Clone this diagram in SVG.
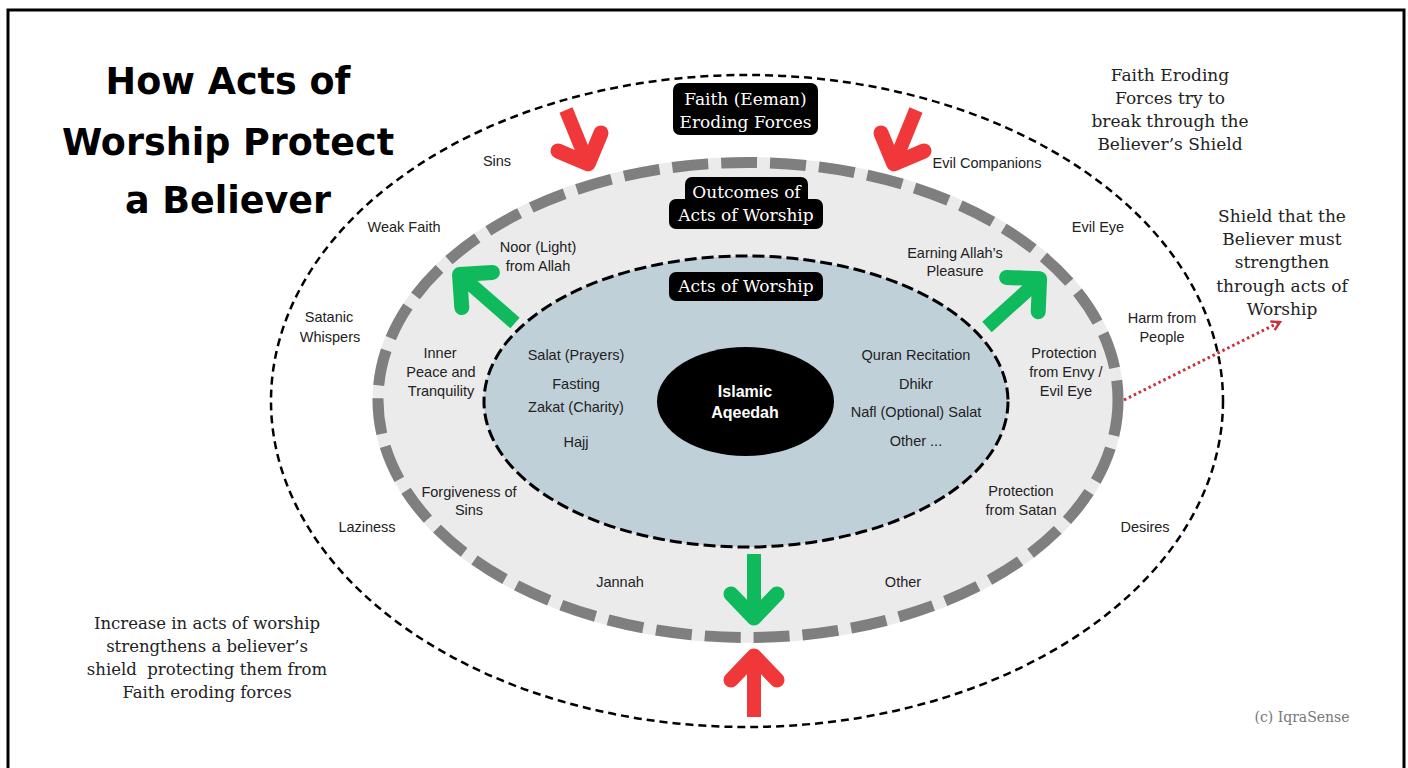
<svg xmlns="http://www.w3.org/2000/svg" width="1408" height="768" viewBox="0 0 1408 768">
  <defs>
    <style>
      .lbl { font-family: "Liberation Sans", Arial, sans-serif; font-size: 14.5px; fill: #222; text-anchor: middle; }
      .core { font-family: "Liberation Sans", Arial, sans-serif; font-size: 16px; font-weight: bold; fill: #fff; text-anchor: middle; }
      .tag { font-family: "DejaVu Serif", "Liberation Serif", serif; font-size: 17px; fill: #fff; text-anchor: middle; }
      .note { font-family: "DejaVu Serif", "Liberation Serif", serif; font-size: 17px; fill: #222; text-anchor: middle; }
      .note-sm { font-size: 16.5px; white-space: pre; }
      .title { font-family: "DejaVu Sans", "Liberation Sans", sans-serif; font-size: 36.5px; font-weight: 900; fill: #000; text-anchor: middle; }
      .box { fill: #000; }
      .shaft-red { stroke: #f0383a; stroke-width: 14; fill: none; stroke-linecap: butt; }
      .head-red { stroke: #f0383a; stroke-width: 15; fill: none; stroke-linecap: round; stroke-linejoin: round; }
      .shaft-green { stroke: #0fba5c; stroke-width: 14; fill: none; stroke-linecap: butt; }
      .head-green { stroke: #0fba5c; stroke-width: 15; fill: none; stroke-linecap: round; stroke-linejoin: round; }
    </style>
    <marker id="dotHead" viewBox="0 0 10 10" refX="8" refY="5" markerWidth="4" markerHeight="4" orient="auto" markerUnits="strokeWidth">
      <path d="M1 1 L8 5 L1 9" fill="none" stroke="#c9303a" stroke-width="2"/>
    </marker>
  </defs>

  <rect width="1408" height="768" fill="#fff"/>
  <!-- frame -->
  <rect x="8" y="10" width="1396" height="780" fill="none" stroke="#000" stroke-width="3"/>

  <!-- title -->
  <g id="title">
    <text class="title" x="228" y="94">How Acts of</text>
    <text class="title" x="228" y="155">Worship Protect</text>
    <text class="title" x="228" y="213">a Believer</text>
  </g>

  <!-- outer ring: faith eroding forces -->
  <g id="eroding-ring">
    <ellipse cx="747" cy="401" rx="476" ry="326" fill="none" stroke="#000" stroke-width="2.5" stroke-dasharray="8 5"/>
    <text class="lbl" x="497" y="166">Sins</text>
    <text class="lbl" x="987" y="168">Evil Companions</text>
    <text class="lbl" x="404" y="232">Weak Faith</text>
    <text class="lbl" x="1098" y="232">Evil Eye</text>
    <text class="lbl" x="329" y="322">Satanic</text>
    <text class="lbl" x="330" y="342">Whispers</text>
    <text class="lbl" x="1162" y="323">Harm from</text>
    <text class="lbl" x="1162" y="342">People</text>
    <text class="lbl" x="367" y="532">Laziness</text>
    <text class="lbl" x="1145" y="532">Desires</text>
  </g>

  <!-- shield band: outcomes of acts of worship -->
  <g id="shield">
    <ellipse cx="748" cy="400" rx="370" ry="237.5" fill="#ebebeb" stroke="#ebebeb" stroke-width="11"/>
    <ellipse cx="748" cy="400" rx="370" ry="237.5" fill="none" stroke="#7f7f7f" stroke-width="11" stroke-dasharray="36 13"/>
    <text class="lbl" x="538" y="252">Noor (Light)</text>
    <text class="lbl" x="538" y="271">from Allah</text>
    <text class="lbl" x="955" y="258">Earning Allah’s</text>
    <text class="lbl" x="955" y="276">Pleasure</text>
    <text class="lbl" x="440" y="358">Inner</text>
    <text class="lbl" x="441" y="377">Peace and</text>
    <text class="lbl" x="441" y="396">Tranquility</text>
    <text class="lbl" x="1064" y="358">Protection</text>
    <text class="lbl" x="1066" y="377">from Envy /</text>
    <text class="lbl" x="1066" y="396">Evil Eye</text>
    <text class="lbl" x="469" y="497">Forgiveness of</text>
    <text class="lbl" x="469" y="515">Sins</text>
    <text class="lbl" x="1021" y="496">Protection</text>
    <text class="lbl" x="1021" y="515">from Satan</text>
    <text class="lbl" x="620" y="587">Jannah</text>
    <text class="lbl" x="903" y="587">Other</text>
  </g>

  <!-- inner ellipse: acts of worship -->
  <g id="acts">
    <ellipse cx="746" cy="401.5" rx="262" ry="145.5" fill="#c0d0d9" stroke="#000" stroke-width="3" stroke-dasharray="12 5"/>
    <text class="lbl" x="576" y="360">Salat (Prayers)</text>
    <text class="lbl" x="576" y="389">Fasting</text>
    <text class="lbl" x="576" y="412">Zakat (Charity)</text>
    <text class="lbl" x="576" y="447">Hajj</text>
    <text class="lbl" x="916" y="360">Quran Recitation</text>
    <text class="lbl" x="916" y="389">Dhikr</text>
    <text class="lbl" x="916" y="417">Nafl (Optional) Salat</text>
    <text class="lbl" x="916" y="446">Other ...</text>
  </g>

  <!-- core -->
  <g id="aqeedah">
    <ellipse cx="745.5" cy="401.5" rx="88.5" ry="54.5" fill="#000"/>
    <text class="core" x="745" y="397">Islamic</text>
    <text class="core" x="745" y="418">Aqeedah</text>
  </g>

  <!-- heading tags -->
  <g id="tag-eroding">
    <rect class="box" x="673" y="83" width="145" height="52" rx="7"/>
    <text class="tag" x="745.5" y="105">Faith (Eeman)</text>
    <text class="tag" x="745.5" y="128">Eroding Forces</text>
  </g>
  <g id="tag-outcomes">
    <rect class="box" x="685" y="177" width="123" height="30" rx="7"/>
    <rect class="box" x="669" y="199" width="154" height="30" rx="7"/>
    <text class="tag" x="746.5" y="198">Outcomes of</text>
    <text class="tag" x="746" y="221">Acts of Worship</text>
  </g>
  <g id="tag-acts">
    <rect class="box" x="669" y="272" width="154" height="29" rx="7"/>
    <text class="tag" x="746" y="292">Acts of Worship</text>
  </g>

  <!-- side notes -->
  <g id="note-forces">
    <text class="note" x="1170" y="81">Faith Eroding</text>
    <text class="note" x="1170" y="104">Forces try to</text>
    <text class="note" x="1170" y="127">break through the</text>
    <text class="note" x="1170" y="150">Believer’s Shield</text>
  </g>
  <g id="note-shield">
    <text class="note" x="1282" y="222">Shield that the</text>
    <text class="note" x="1282" y="245">Believer must</text>
    <text class="note" x="1282" y="268">strengthen</text>
    <text class="note" x="1282" y="292">through acts of</text>
    <text class="note" x="1282" y="315">Worship</text>
  </g>
  <g id="note-increase">
    <text class="note note-sm" x="207" y="629">Increase in acts of worship</text>
    <text class="note note-sm" x="207" y="652">strengthens a believer’s</text>
    <text class="note note-sm" x="207" y="675">shield  protecting them from</text>
    <text class="note note-sm" x="207" y="698">Faith eroding forces</text>
  </g>
  <text x="1302" y="722" style="font-family:'DejaVu Serif','Liberation Serif',serif;font-size:14px;fill:#777;text-anchor:middle">(c) IqraSense</text>

  <!-- connectors: force and shield arrows -->
  <g id="connectors">
    <!-- eroding forces pushing in -->
    <path class="shaft-red" d="M566 110 L588 164"/>
    <path class="head-red" d="M558 151 L588.2 163.8 L601 133"/>
    <path class="shaft-red" d="M916 110 L894 164"/>
    <path class="head-red" d="M924 151 L893.8 163.8 L881 133"/>
    <path class="shaft-red" d="M754 717 L754 656"/>
    <path class="head-red" d="M731 680 L754 656 L777 680"/>
    <!-- worship strengthening the shield -->
    <path class="shaft-green" d="M515 323 L460 275"/>
    <path class="head-green" d="M461.8 307.5 L459.5 274.6 L492.4 272.4"/>
    <path class="shaft-green" d="M987 327 L1040 279"/>
    <path class="head-green" d="M1006.6 277.4 L1039.6 278.8 L1038.2 311.8"/>
    <path class="shaft-green" d="M754 554 L754 618"/>
    <path class="head-green" d="M731 594 L754 618 L777 594"/>
    <!-- pointer to the shield note -->
    <path d="M1124 400 L1280 322" fill="none" stroke="#c9303a" stroke-width="3" stroke-dasharray="2.5 3" marker-end="url(#dotHead)"/>
  </g>
</svg>
